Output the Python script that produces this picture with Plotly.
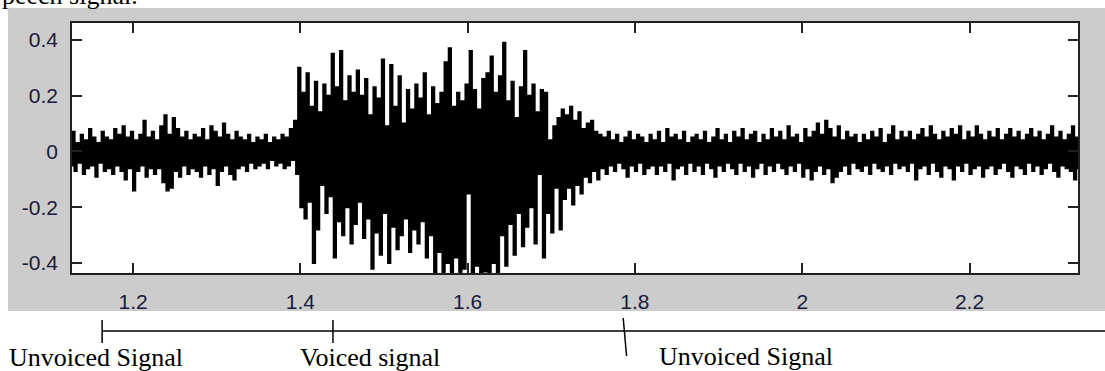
import numpy as np
import plotly.graph_objects as go

# ---------------- data ----------------
t_start = 1.125
t_step = 0.005

upper = [
    0.05, 0.07, 0.03, 0.06, 0.04, 0.08, 0.05, 0.03, 0.07, 0.05,
    0.04, 0.08, 0.06, 0.09, 0.05, 0.07, 0.04, 0.06, 0.11, 0.05,
    0.07, 0.04, 0.09, 0.13, 0.06, 0.12, 0.08, 0.05, 0.07, 0.04,
    0.06, 0.05, 0.08, 0.04, 0.09, 0.07, 0.05, 0.10, 0.06, 0.04,
    0.07, 0.05, 0.04, 0.06, 0.03, 0.05, 0.04, 0.06, 0.03, 0.05,
    0.04, 0.06, 0.05, 0.08, 0.11, 0.30, 0.21, 0.28, 0.16, 0.25,
    0.14, 0.24, 0.20, 0.35, 0.23, 0.36, 0.18, 0.27, 0.21, 0.29,
    0.20, 0.26, 0.13, 0.23, 0.19, 0.33, 0.09, 0.31, 0.16, 0.27,
    0.10, 0.22, 0.15, 0.24, 0.19, 0.28, 0.13, 0.23, 0.17, 0.21,
    0.32, 0.37, 0.16, 0.21, 0.18, 0.24, 0.36, 0.22, 0.15, 0.26,
    0.28, 0.34, 0.21, 0.27, 0.39, 0.18, 0.25, 0.12, 0.23, 0.36,
    0.20, 0.24, 0.14, 0.22, 0.21, 0.04, 0.09, 0.12, 0.15, 0.13,
    0.16, 0.11, 0.14, 0.08, 0.10, 0.11, 0.07, 0.06, 0.05, 0.07,
    0.04, 0.06, 0.03, 0.05, 0.07, 0.04, 0.06, 0.05, 0.03, 0.06,
    0.04, 0.07, 0.03, 0.08, 0.05, 0.06, 0.04, 0.07, 0.03, 0.05,
    0.06, 0.04, 0.07, 0.03, 0.05, 0.08, 0.04, 0.06, 0.03, 0.07,
    0.05, 0.08, 0.04, 0.06, 0.07, 0.03, 0.06, 0.04, 0.08, 0.05,
    0.07, 0.04, 0.09, 0.05, 0.06, 0.03, 0.08, 0.05, 0.07, 0.10,
    0.06, 0.11, 0.08, 0.05, 0.09, 0.04, 0.07, 0.05, 0.06, 0.03,
    0.06, 0.04, 0.07, 0.05, 0.08, 0.03, 0.06, 0.09, 0.04, 0.07,
    0.05, 0.07, 0.04, 0.06, 0.08, 0.05, 0.09, 0.06, 0.04, 0.07,
    0.05, 0.08, 0.06, 0.09, 0.04, 0.07, 0.05, 0.09, 0.06, 0.04,
    0.07, 0.05, 0.08, 0.04, 0.06, 0.08, 0.05, 0.07, 0.04, 0.06,
    0.08, 0.05, 0.07, 0.04, 0.06, 0.09, 0.05, 0.07, 0.04, 0.06,
    0.09, 0.05,
]

lower = [
    -0.05, -0.07, -0.04, -0.08, -0.06, -0.05, -0.09, -0.04, -0.07, -0.06,
    -0.08, -0.05, -0.07, -0.10, -0.06, -0.14, -0.07, -0.05, -0.09, -0.06,
    -0.08, -0.06, -0.11, -0.14, -0.13, -0.07, -0.09, -0.05, -0.08, -0.06,
    -0.07, -0.09, -0.05, -0.08, -0.06, -0.12, -0.07, -0.05, -0.08, -0.10,
    -0.06, -0.05, -0.07, -0.04, -0.06, -0.05, -0.04, -0.06, -0.03, -0.05,
    -0.04, -0.06, -0.05, -0.03, -0.08, -0.20, -0.24, -0.18, -0.40, -0.28,
    -0.12, -0.22, -0.16, -0.38, -0.25, -0.30, -0.20, -0.33, -0.26, -0.18,
    -0.31, -0.24, -0.42, -0.29, -0.37, -0.22, -0.40, -0.27, -0.35, -0.30,
    -0.24, -0.36, -0.28, -0.33, -0.25, -0.38, -0.30, -0.44, -0.36, -0.44,
    -0.40, -0.44, -0.38, -0.44, -0.42, -0.15, -0.44, -0.41, -0.44, -0.43,
    -0.44, -0.40, -0.44, -0.30, -0.41, -0.26, -0.37, -0.22, -0.34, -0.27,
    -0.20, -0.33, -0.08, -0.38, -0.22, -0.29, -0.13, -0.28, -0.17, -0.13,
    -0.19, -0.12, -0.15, -0.09, -0.11, -0.07, -0.10, -0.06, -0.08, -0.05,
    -0.07, -0.04, -0.06, -0.09, -0.05, -0.07, -0.04, -0.08, -0.06, -0.05,
    -0.08, -0.05, -0.07, -0.04, -0.10, -0.06, -0.05, -0.08, -0.04, -0.07,
    -0.05, -0.08, -0.04, -0.06, -0.09, -0.05, -0.07, -0.04, -0.06, -0.08,
    -0.04, -0.07, -0.05, -0.09, -0.06, -0.04, -0.08, -0.05, -0.07, -0.04,
    -0.06, -0.08, -0.05, -0.07, -0.04, -0.09, -0.06, -0.10, -0.07, -0.05,
    -0.08, -0.06, -0.11, -0.09, -0.07, -0.05, -0.08, -0.04, -0.06, -0.07,
    -0.05, -0.08, -0.04, -0.06, -0.07, -0.05, -0.08, -0.04, -0.06, -0.05,
    -0.07, -0.04, -0.10, -0.06, -0.05, -0.08, -0.04, -0.07, -0.09, -0.05,
    -0.06, -0.10, -0.05, -0.07, -0.04, -0.08, -0.06, -0.05, -0.09, -0.06,
    -0.05, -0.08, -0.06, -0.04, -0.07, -0.09, -0.05, -0.06, -0.08, -0.04,
    -0.07, -0.05, -0.08, -0.06, -0.04, -0.07, -0.09, -0.05, -0.06, -0.07,
    -0.10, -0.06,
]

x_tick_vals = [1.2, 1.4, 1.6, 1.8, 2.0, 2.2]
x_tick_text = ["1.2", "1.4", "1.6", "1.8", "2", "2.2"]
y_tick_vals = [-0.4, -0.2, 0, 0.2, 0.4]
y_tick_text = ["-0.4", "-0.2", "0", "0.2", "0.4"]

segment_bounds = [1.163, 1.439, 1.788]
segment_labels = ["Unvoiced Signal", "Voiced signal", "Unvoiced Signal"]
caption = "peech signal."

x_range = [1.127, 2.3297]
y_range = [-0.436, 0.461]

# ---------------- build the waveform polyline ----------------
# each sample becomes a vertical stroke (peak -> trough), as in a dense
# audio plot where the samples crowd into solid vertical strokes
n = min(len(upper), len(lower))
h = t_step / 2
xs, ys = [], []
for i in range(n):
    ti = t_start + t_step * i
    nxt = upper[i + 1] if i + 1 < n else upper[i]
    xs += [ti, ti, ti + h, ti + h]
    ys += [upper[i], lower[i], lower[i], nxt]

W, H = 1105, 371
ml, mr, mt, mb = 72, 27, 23, 98
pw, ph = W - ml - mr, H - mt - mb


def px_to_paper_x(px):
    return (px - ml) / pw


def py_to_paper_y(py):
    return (H - mb - py) / ph


def t_to_paper_x(tv):
    return (tv - x_range[0]) / (x_range[1] - x_range[0])


fig = go.Figure()
fig.add_trace(go.Scatter(x=xs, y=ys, mode="lines",
                         line=dict(color="black", width=2.2),
                         hoverinfo="skip", showlegend=False))

shapes = [
    # grey figure background (MATLAB style)
    dict(type="rect", xref="paper", yref="paper",
         x0=px_to_paper_x(8), x1=px_to_paper_x(1106),
         y0=py_to_paper_y(311), y1=py_to_paper_y(8),
         fillcolor="#cccccc", line=dict(width=0), layer="below"),
    # white axes area
    dict(type="rect", xref="x domain", yref="y domain",
         x0=0, x1=1, y0=0, y1=1,
         fillcolor="white", line=dict(width=0), layer="below"),
    # horizontal annotation line
    dict(type="line", xref="paper", yref="paper",
         x0=t_to_paper_x(segment_bounds[0]), x1=px_to_paper_x(1106),
         y0=py_to_paper_y(331), y1=py_to_paper_y(331),
         line=dict(color="black", width=1.5)),
]
tick_spans = [(320, 343, 0), (320, 343, 0), (318, 356, 0.004)]
for b, (ya, yb, slant) in zip(segment_bounds, tick_spans):
    shapes.append(dict(type="line", xref="x", yref="paper",
                       x0=b - slant / 2, x1=b + slant / 2,
                       y0=py_to_paper_y(ya), y1=py_to_paper_y(yb),
                       line=dict(color="black", width=1.5)))

label_left_px = [7, 298, 657]
label_mid_py = [357, 357, 356]
annotations = []
for lab, lx, ly in zip(segment_labels, label_left_px, label_mid_py):
    annotations.append(dict(text=lab, xref="paper", yref="paper",
                            x=px_to_paper_x(lx), y=py_to_paper_y(ly),
                            xanchor="left", yanchor="middle", showarrow=False,
                            font=dict(family="Liberation Serif, Times New Roman, serif",
                                      size=26, color="black")))
annotations.append(dict(text=caption, xref="paper", yref="paper",
                        x=px_to_paper_x(0), y=py_to_paper_y(-4),
                        xanchor="left", yanchor="middle", showarrow=False,
                        font=dict(family="Liberation Serif, Times New Roman, serif",
                                  size=26, color="black")))

tick_font = dict(family="Liberation Sans, Arial, sans-serif", size=21, color="#1a1a3a")

fig.update_layout(
    width=W, height=H,
    margin=dict(l=ml, r=mr, t=mt, b=mb, pad=0),
    paper_bgcolor="white",
    plot_bgcolor="white",
    shapes=shapes,
    annotations=annotations,
    xaxis=dict(range=x_range, tickvals=x_tick_vals, ticktext=x_tick_text,
               ticks="inside", ticklen=10, tickwidth=1.5, tickcolor="#222222",
               showline=True, linecolor="#222222", linewidth=1.6, mirror="ticks",
               showgrid=False, zeroline=False, tickfont=tick_font,
               ticklabelstandoff=9),
    yaxis=dict(range=y_range, tickvals=y_tick_vals, ticktext=y_tick_text,
               ticks="inside", ticklen=10, tickwidth=1.5, tickcolor="#222222",
               showline=True, linecolor="#222222", linewidth=1.6, mirror="ticks",
               showgrid=False, zeroline=False, tickfont=tick_font,
               ticklabelstandoff=8),
)

fig.write_html("out.html", config={"displayModeBar": False},
               post_script="document.body.style.margin='0';")
